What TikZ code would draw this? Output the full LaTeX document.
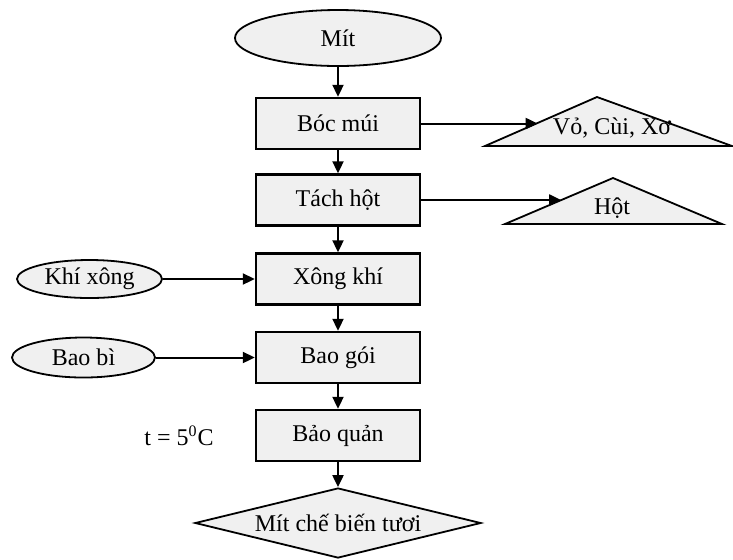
\documentclass[tikz,border=0pt]{standalone}
\usepackage{fontspec}
\setmainfont{Liberation Serif}
\usetikzlibrary{shapes.geometric,positioning,arrows.meta,calc}
\tikzset{
node distance=39pt, % spacing of the main line
process/.style={rectangle, draw, line width=1.2pt, fill=gray!12, minimum width=82pt, minimum height=25.5pt},
source/.style={ellipse, draw, line width=0.9pt, fill=gray!12, inner sep=0pt},
product/.style={diamond, draw, line width=0.9pt, fill=gray!12, aspect=4, inner sep=0pt, minimum width=143pt, minimum height=35pt},
waste/.style={draw, line width=0.9pt, fill=gray!12, line join=miter},
flow/.style={-{Triangle[length=6pt,width=5.5pt]}, line width=1pt},
}

\begin{document}
\begin{tikzpicture}[x=0.5pt,y=-0.5pt,on grid,font=\fontsize{12}{14}\selectfont]
		\useasboundingbox (0,0) rectangle (733,559);
		% main line
		\node[source, minimum width=103pt, minimum height=28pt] (mit) at (338,38) {Mít};
		\node[process] (boc) [below=42.75pt of mit] {Bóc múi};
		\node[process] (tach) [below=38.25pt of boc] {Tách hột};
		\node[process] (xong) [below=39.5pt of tach] {Xông khí};
		\node[process] (baogoi) [below=39.25pt of xong] {Bao gói};
		\node[process] (baoquan) [below=39pt of baogoi] {Bảo quản};
		\node[product] (tuoi) [below=43.75pt of baoquan] {Mít chế biến tươi};
		% inputs
		\node[source, minimum width=72.5pt, minimum height=19pt] (khixong) [left=124.25pt of xong] {Khí xông};
		\node[source, minimum width=71.5pt, minimum height=20pt] (baobi) [left=127.25pt of baogoi] {Bao bì};
		\node (nhietdo) [left=79.5pt of baoquan] {t = 5\textsuperscript{0}C};
		% waste
		\coordinate (vo-l) at (485,146);
		\coordinate (vo-t) at (597,97);
		\coordinate (vo-r) at (732,146);
		\coordinate (hot-l) at (505,224);
		\coordinate (hot-t) at (613,178);
		\coordinate (hot-r) at (722,224);
		\draw[waste] (vo-l) -- (vo-t) -- (vo-r) -- cycle;
		\draw[waste] (hot-l) -- (hot-t) -- (hot-r) -- cycle;
		\node (vo) at (612,128) {Vỏ, Cùi, Xơ};
		\node (hot) at (612,208) {Hột};
		\coordinate (vo-in) at ($(vo-l)!0.47!(vo-t)$);
		\coordinate (hot-in) at ($(hot-l)!0.52!(hot-t)$);
		\path[flow]
		(mit) edge (boc)
		(boc) edge (tach)
		(tach) edge (xong)
		(xong) edge (baogoi)
		(baogoi) edge (baoquan)
		(baoquan) edge (tuoi)
		(khixong) edge (xong)
		(baobi) edge (baogoi)
		(boc.east) edge (boc.east -| vo-in)
		(tach.east) edge (tach.east -| hot-in);
\end{tikzpicture}
\end{document}
